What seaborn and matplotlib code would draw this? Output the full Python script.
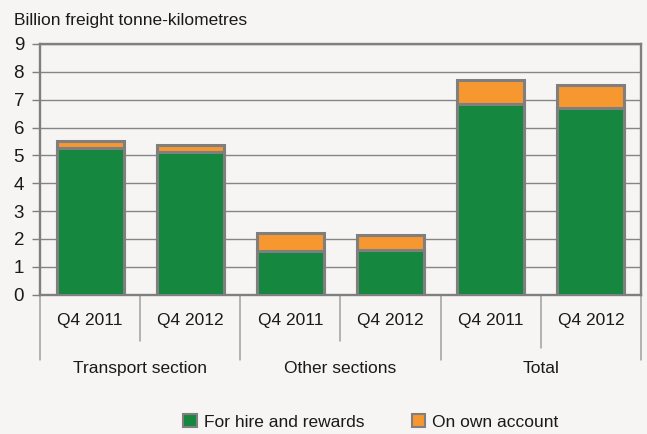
import matplotlib
matplotlib.use("Agg")
import matplotlib.pyplot as plt
import matplotlib.transforms as mtransforms
from matplotlib.patches import Patch
import seaborn as sns
import pandas as pd

# ---- data ----
groups = ["Transport section", "Transport section", "Other sections", "Other sections", "Total", "Total"]
quarters = ["Q4 2011", "Q4 2012", "Q4 2011", "Q4 2012", "Q4 2011", "Q4 2012"]
for_hire = [5.28, 5.13, 1.55, 1.59, 6.83, 6.70]
own_account = [0.23, 0.23, 0.67, 0.56, 0.88, 0.82]
group_names = ["Transport section", "Other sections", "Total"]
series_names = ["For hire and rewards", "On own account"]
y_ticks = list(range(0, 10))
y_label = "Billion freight tonne-kilometres"

GREEN = "#15873f"
ORANGE = "#f7972f"
EDGE = "#7f7f7f"
BG = "#f6f5f3"
GRID = "#858585"
TXT = "#1a1a1a"

sns.set_style("white")
plt.rcParams["font.family"] = ["Liberation Sans", "DejaVu Sans"]

keys = [f"{g}|{q}" for g, q in zip(groups, quarters)]
df = pd.DataFrame({"key": keys, "hire": for_hire,
                   "total": [a + b for a, b in zip(for_hire, own_account)]})

fig = plt.figure(figsize=(6.47, 4.34), dpi=100, facecolor=BG)
ax = fig.add_axes([40 / 647, 1 - 294.5 / 434, 601 / 647, 250.5 / 434])
ax.set_facecolor(BG)

sns.barplot(data=df, x="key", y="total", order=keys, color=ORANGE, saturation=1,
            edgecolor=EDGE, linewidth=2.2, width=0.67, ax=ax, zorder=3)
sns.barplot(data=df, x="key", y="hire", order=keys, color=GREEN, saturation=1,
            edgecolor=EDGE, linewidth=2.2, width=0.67, ax=ax, zorder=4)

ax.set_xlim(-0.5, len(keys) - 0.5)
ax.set_ylim(0, 9)
ax.set_yticks(y_ticks)
ax.set_yticklabels([str(t) for t in y_ticks], fontsize=13.5, color=TXT)
ax.tick_params(axis="y", length=5.5, width=1, color=EDGE, pad=6, direction="out", left=True)
ax.set_xticks([])
ax.set_xlabel("")
ax.set_ylabel("")
ax.grid(axis="y", color=GRID, linewidth=1.0)
ax.set_axisbelow(True)
for s in ax.spines.values():
    s.set_color(EDGE)
    s.set_linewidth(1.7)
    s.set_visible(True)

trans = mtransforms.blended_transform_factory(ax.transData, ax.transAxes)
# quarter labels
for i, q in enumerate(quarters):
    ax.text(i, -0.105, q, transform=trans, ha="center", va="center", fontsize=12.5, color=TXT)
# group labels and separators
seps = {-0.5: -0.262, 0.5: -0.186, 1.5: -0.262, 2.5: -0.186, 3.5: -0.262, 4.5: -0.214, 5.5: -0.262}
for x, y1 in seps.items():
    ax.plot([x, x], [0, y1], transform=trans, color="#a0a0a0", lw=1.1, clip_on=False)
for gi, g in enumerate(group_names):
    idx = [i for i, gg in enumerate(groups) if gg == g]
    cx = sum(idx) / len(idx)
    ax.text(cx, -0.294, g, transform=trans, ha="center", va="center", fontsize=12.5, color=TXT)

fig.text(14 / 647, 1 - 21 / 434, y_label, ha="left", va="center", fontsize=12.5, color=TXT)

handles = [Patch(facecolor=GREEN, edgecolor=EDGE, linewidth=1.5),
           Patch(facecolor=ORANGE, edgecolor=EDGE, linewidth=1.5)]
fig.legend(handles, series_names, loc="center", bbox_to_anchor=(371 / 647, 1 - 422 / 434),
           ncol=2, frameon=False, fontsize=12.5, handlelength=0.8, handleheight=0.8,
           handletextpad=0.4, columnspacing=2.7, labelcolor=TXT)

fig.savefig("out.png", dpi=100, facecolor=BG)
